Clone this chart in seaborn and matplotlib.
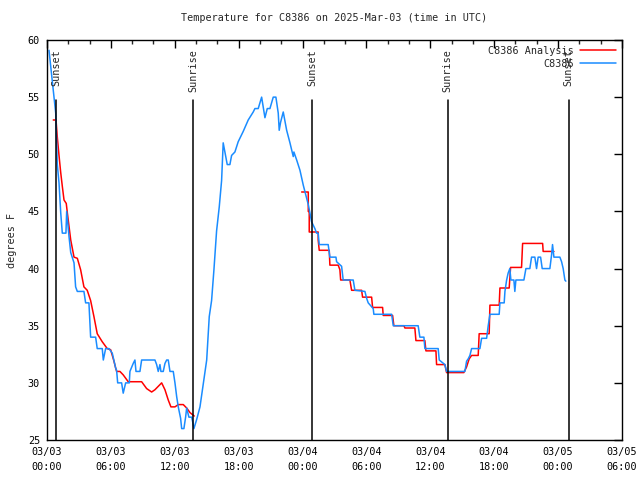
import numpy as np
import pandas as pd
import matplotlib
matplotlib.use("Agg")
import matplotlib.pyplot as plt
import matplotlib.dates as mdates
import seaborn as sns

# hours after 2025-03-03 00:00 UTC, temperature in F
obs_hours = [0.19, 0.82, 0.97, 1.13, 1.29, 1.44, 1.78, 1.85, 2.07, 2.23, 2.54, 2.69, 2.85, 3.47, 3.63,
             3.94, 4.10, 4.57, 4.72, 5.19, 5.29, 5.51, 5.82, 6.13, 6.45, 6.54, 6.64, 7.01, 7.16, 7.39,
             7.73, 7.79, 8.10, 8.26, 8.36, 8.73, 8.89, 10.14, 10.30, 10.45, 10.61, 10.70, 10.92, 11.08,
             11.24, 11.39, 11.55, 11.86, 12.02, 12.18, 12.33, 12.55, 12.65, 12.86, 13.02, 13.12, 13.33,
             13.59, 13.68, 13.80, 14.06, 14.37, 14.68, 15.0, 15.24, 15.46, 15.68, 15.93, 16.18, 16.40,
             16.55, 16.71, 16.93, 17.18, 17.34, 17.65, 17.96, 18.43, 18.90, 19.37, 19.53, 19.84, 20.16,
             20.47, 20.69, 20.94, 21.25, 21.50, 21.72, 21.81, 21.94, 22.19, 22.51, 22.82, 23.13, 23.19,
             23.45, 23.76, 24.07, 24.38, 24.54, 24.69, 24.85, 25.16, 25.32, 25.47, 25.57, 26.41, 26.57,
             27.14, 27.20, 27.67, 27.82, 28.76, 28.83, 28.92, 29.86, 30.02, 30.17, 30.64, 30.70, 32.37,
             32.52, 34.86, 35.02, 35.40, 35.49, 36.74, 36.84, 37.37, 37.53, 39.25, 39.41, 39.56, 39.72,
             39.88, 40.66, 40.82, 41.29, 41.44, 41.60, 42.47, 42.54, 42.94, 43.01, 43.17, 43.31, 43.47,
             43.57, 43.85, 43.94, 44.04, 44.79, 44.98, 45.35, 45.51, 45.82, 45.98, 46.13, 46.36, 46.51,
             47.23, 47.39, 47.48, 47.61, 48.17, 48.33, 48.48, 48.64, 48.73]
obs_temps = [59.1, 53.6, 49.1, 47.5, 44.9, 43.1, 43.1, 45.0, 42.8, 41.4, 40.5, 38.4, 38.0, 38.0, 37.0,
             37.0, 34.0, 34.0, 33.0, 33.0, 32.0, 33.0, 33.0, 32.6, 31.3, 31.1, 30.0, 30.0, 29.1, 30.0,
             30.0, 31.0, 31.7, 32.0, 31.0, 31.0, 32.0, 32.0, 31.6, 31.0, 31.6, 31.0, 31.0, 31.7,
             32.0, 32.0, 31.0, 31.0, 30.0, 28.8, 27.9, 26.9, 26.0, 26.0, 27.0, 27.8, 27.0,
             27.0, 26.6, 26.0, 26.8, 27.9, 29.9, 32.0, 35.8, 37.2, 39.9, 43.3, 45.4, 47.7,
             51.0, 50.2, 49.1, 49.1, 49.9, 50.2, 51.1, 52.0, 53.0, 53.7, 54.0, 54.0, 55.0,
             53.2, 54.0, 54.0, 55.0, 55.0, 53.6, 52.1, 52.8, 53.7, 52.1, 51.0, 49.8, 50.2,
             49.5, 48.6, 47.3, 46.2, 45.6, 44.9, 44.1, 43.5, 43.1, 43.1, 42.1, 42.1, 41.0,
             41.0, 40.6, 40.2, 39.0, 39.0, 38.6, 38.1, 38.0, 37.4, 37.0, 36.5, 36.0, 36.0,
             35.0, 35.0, 34.0, 34.0, 33.0, 33.0, 32.0, 31.6, 31.0, 31.0, 31.9, 32.1, 32.4,
             33.0, 33.0, 33.9, 33.9, 35.0, 36.0, 36.0, 37.0, 37.0, 38.0, 39.0, 39.6, 40.0,
             39.0, 39.0, 38.0, 39.0, 39.0, 40.0, 40.0, 41.0, 41.0, 40.0, 41.0, 41.0, 40.0,
             40.0, 41.2, 42.1, 41.0, 41.0, 40.6, 40.0, 39.0, 38.9]

# analysis: two night-time pieces
ana_night1_hours = [0.59, 0.85, 0.97, 1.13, 1.29, 1.44, 1.60, 1.81, 1.91, 2.07, 2.23, 2.54, 2.85, 3.16,
                    3.47, 3.78, 4.10, 4.41, 4.72, 5.19, 5.66, 5.98, 6.29, 6.45, 6.54, 6.85, 7.16, 7.63,
                    8.89, 9.36, 9.83, 10.14, 10.77, 11.08, 11.39, 11.64, 12.02, 12.33, 12.80, 13.12,
                    13.43, 13.83]
ana_night1_temps = [53.0, 53.0, 51.5, 49.9, 48.4, 47.2, 46.0, 45.7, 44.9, 43.7, 42.5, 41.0, 40.9, 39.9,
                    38.4, 38.1, 37.2, 35.8, 34.3, 33.6, 33.0, 32.9, 31.9, 31.3, 31.0, 31.0, 30.7, 30.1,
                    30.1, 29.5, 29.2, 29.4, 30.0, 29.4, 28.5, 27.9, 27.9, 28.1, 28.1, 27.8,
                    27.4, 27.1]
ana_night2_hours = [23.92, 24.54, 24.54, 24.63, 24.63, 25.47, 25.47, 25.57, 26.51, 26.57, 27.35, 27.51,
                    27.58, 28.45, 28.52, 28.61, 29.55, 29.64, 30.49, 30.58, 31.52, 31.58, 32.46, 32.58,
                    33.52, 33.62, 34.55, 34.65, 35.49, 35.59, 36.53, 36.59, 37.37, 37.53, 39.15, 39.41,
                    39.65, 39.88, 40.50, 40.59, 41.53, 41.60, 42.47, 42.54, 43.41, 43.54, 44.57, 44.67,
                    46.55, 46.60, 47.61]
ana_night2_temps = [46.7, 46.7, 45.0, 45.0, 43.2, 43.2, 42.5, 41.6, 41.6, 40.3, 40.3, 39.9,
                    39.0, 39.0, 38.6, 38.1, 38.1, 37.5, 37.5, 36.6, 36.6, 35.9, 35.9, 35.0,
                    35.0, 34.8, 34.8, 33.7, 33.7, 32.8, 32.8, 31.6, 31.6, 30.9, 30.9, 31.4,
                    32.1, 32.4, 32.4, 34.3, 34.3, 36.8, 36.8, 38.3, 38.3, 40.1, 40.1, 42.2,
                    42.2, 41.5, 41.5]

sun_labels = ["Sunset", "Sunrise", "Sunset", "Sunrise", "Sunset"]
sun_hours = [0.85, 13.71, 24.88, 37.65, 49.01]

start = pd.Timestamp("2025-03-03 00:00")


def to_time(h):
    return start + pd.to_timedelta(np.array(h), unit="h")


obs = pd.DataFrame({"time": to_time(obs_hours), "temp": obs_temps})
ana1 = pd.DataFrame({"time": to_time(ana_night1_hours), "temp": ana_night1_temps})
ana2 = pd.DataFrame({"time": to_time(ana_night2_hours), "temp": ana_night2_temps})

sns.set_theme(style="white")
plt.rcParams["font.family"] = ["DejaVu Sans Mono"]
plt.rcParams["font.size"] = 7.3

fig = plt.figure(figsize=(6.4, 4.8), dpi=100)
ax = fig.add_axes([0.0734, 0.0833, 0.8984, 0.8334])

red = "#ff0000"
blue = "#1a8cff"
sns.lineplot(data=ana1, x="time", y="temp", estimator=None, sort=False,
             color=red, lw=1.1, ax=ax, label="C8386 Analysis")
sns.lineplot(data=ana2, x="time", y="temp", estimator=None, sort=False,
             color=red, lw=1.1, ax=ax, legend=False)
sns.lineplot(data=obs, x="time", y="temp", estimator=None, sort=False,
             color=blue, lw=1.1, ax=ax, label="C8386")

for lab, h in zip(sun_labels, sun_hours):
    t = mdates.date2num(start + pd.Timedelta(hours=h))
    ax.plot([t, t], [0, 0.85], color="black", lw=1.1, transform=ax.get_xaxis_transform())
    ax.text(t, 0.977, lab, rotation=90, ha="center", va="top",
            transform=ax.get_xaxis_transform(), fontsize=7.3)

ax.set_xlim(start, start + pd.Timedelta(hours=54))
ax.set_ylim(25, 60)
ax.set_yticks(range(25, 61, 5))
ax.xaxis.set_major_locator(mdates.HourLocator(byhour=[0, 6, 12, 18]))
ax.xaxis.set_minor_locator(mdates.HourLocator(byhour=range(0, 24, 2)))
ax.xaxis.set_major_formatter(mdates.DateFormatter("%m/%d\n%H:%M"))
for lbl in ax.get_xticklabels():
    lbl.set_linespacing(1.6)
ax.tick_params(which="major", direction="in", length=6, width=1, top=True, right=True,
               labelsize=7.3, pad=5, colors="black")
ax.tick_params(which="minor", direction="in", length=3, width=1, top=True, right=True)
for s in ax.spines.values():
    s.set_color("black")
    s.set_linewidth(1)

ax.set_xlabel("")
ax.set_ylabel("degrees F", fontsize=7.3, labelpad=8)
ax.set_title("Temperature for C8386 on 2025-Mar-03 (time in UTC)", fontsize=7.3, pad=14)

handles, labels = ax.get_legend_handles_labels()
keep = {}
for h, l in zip(handles, labels):
    keep.setdefault(l, h)
leg = ax.legend(list(keep.values()), list(keep.keys()), loc="upper right", frameon=False,
                markerfirst=False, fontsize=7.3, handlelength=3.6, handletextpad=0.6,
                borderaxespad=0.15, labelspacing=0.3)
for t in leg.get_texts():
    t.set_ha("right")

fig.savefig("out.png", dpi=100)
